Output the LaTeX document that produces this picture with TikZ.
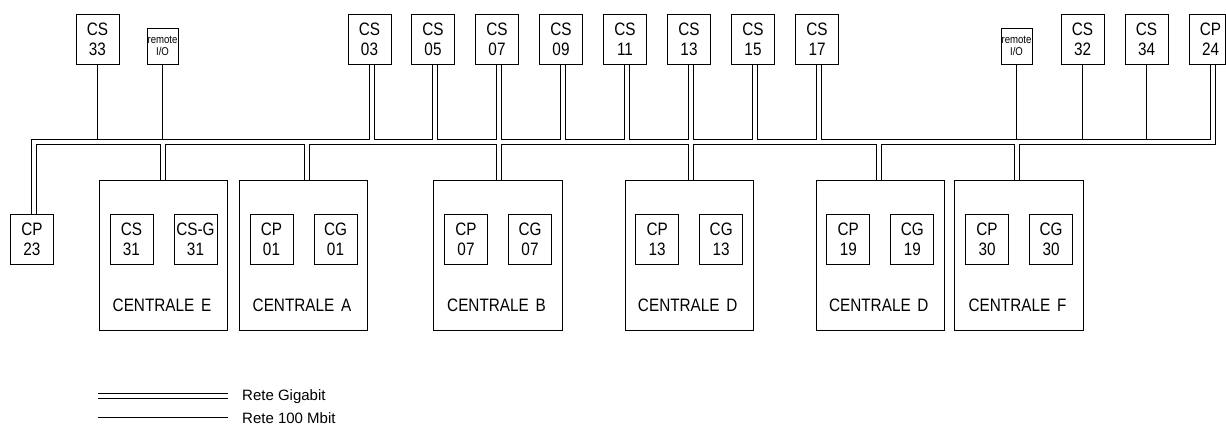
\documentclass[tikz,border=0pt]{standalone}
\usepackage{fontspec}
\setmainfont{Liberation Sans}[FakeStretch=0.85]
\newfontfamily\legfont{Liberation Sans}
\pgfdeclarelayer{bg}
\pgfsetlayers{bg,main}
\begin{document}
\begin{tikzpicture}[x=1pt,y=-1pt,
  box/.style={draw=black, line width=0.9pt, minimum width=43pt, minimum height=50pt, inner sep=0pt, align=center, font=\fontsize{18}{20}\selectfont},
  rio/.style={draw=black, line width=0.9pt, minimum width=31pt, minimum height=36pt, inner sep=0pt, align=center, font=\fontsize{11.3}{12.5}\selectfont},
  central/.style={draw=black, line width=0.9pt, minimum width=128.5pt, minimum height=150pt, inner sep=0pt},
  clabel/.style={font=\fontsize{18}{20}\selectfont, inner sep=0pt},
  gigout/.style={line width=5.6pt, draw=black, line join=miter},
  gigin/.style={line width=3.6pt, draw=white, line join=miter},
  legout/.style={line width=6pt, draw=black},
  legin/.style={line width=4pt, draw=white},
  fast/.style={line width=0.9pt, draw=black},
  legtext/.style={font=\legfont\fontsize{15}{16}\selectfont, anchor=west, inner sep=0pt}]
\useasboundingbox (0,0) rectangle (1226,433);

% top row
\node[box] (cs33) at (97.5,39) {CS\\33};
\node[rio] (rio1) at (162.5,46) {remote\\I/O};
\node[box] (cs03) at (369.5,39) {CS\\03};
\node[box] (cs05) at (433,39) {CS\\05};
\node[box] (cs07) at (497,39) {CS\\07};
\node[box] (cs09) at (561,39) {CS\\09};
\node[box] (cs11) at (625,39) {CS\\11};
\node[box] (cs13) at (689,39) {CS\\13};
\node[box] (cs15) at (753,39) {CS\\15};
\node[box] (cs17) at (817,39) {CS\\17};
\node[rio] (rio2) at (1016.5,46) {remote\\I/O};
\node[box] (cs32) at (1082.5,39) {CS\\32};
\node[box] (cs34) at (1146.5,39) {CS\\34};
\node[box, minimum width=36pt] (cp24) at (1207.5,39) {\hspace*{6pt}CP\\\hspace*{6pt}24};

% bottom left
\node[box] (cp23) at (32,239) {CP\\23};

% centrali
\node[central] (ce) at (163.5,255) {};
\node[box] (ce1) at (131.5,239) {CS\\31};
\node[box] (ce2) at (195.5,239) {CS-G\\31};
\node[clabel] (ceL) at (162,305) {CENTRALE\hspace{2.5pt} E};

\node[central] (ca) at (303.5,255) {};
\node[box] (ca1) at (271.5,239) {CP\\01};
\node[box] (ca2) at (335.5,239) {CG\\01};
\node[clabel] (caL) at (302,305) {CENTRALE\hspace{2.5pt} A};

\node[central] (cb) at (498,255) {};
\node[box] (cb1) at (466,239) {CP\\07};
\node[box] (cb2) at (530,239) {CG\\07};
\node[clabel] (cbL) at (496.5,305) {CENTRALE\hspace{2.5pt} B};

\node[central] (cd) at (689.2,255) {};
\node[box] (cd1) at (657.2,239) {CP\\13};
\node[box] (cd2) at (721.2,239) {CG\\13};
\node[clabel] (cdL) at (687.7,305) {CENTRALE\hspace{2.5pt} D};

\node[central] (cdd) at (880.3,255) {};
\node[box] (cdd1) at (848.3,239) {CP\\19};
\node[box] (cdd2) at (912.3,239) {CG\\19};
\node[clabel] (cddL) at (878.8,305) {CENTRALE\hspace{2.5pt} D};

\node[central] (cf) at (1019,255) {};
\node[box] (cf1) at (987,239) {CP\\30};
\node[box] (cf2) at (1051,239) {CG\\30};
\node[clabel] (cfL) at (1017.5,305) {CENTRALE\hspace{2.5pt} F};

% bus reference coordinates
\coordinate (busC) at (0,141.8);
\coordinate (busT) at (0,139);

\coordinate (tcp23) at ([xshift=2pt]cp23.north);
\coordinate (tcp24) at ([xshift=5.7pt]cp24.south);
\foreach \n in {cs03,cs05,cs07,cs09,cs11,cs13,cs15,cs17}
  \coordinate (t\n) at ([xshift=2.2pt]\n.south);
\coordinate (bce) at ([xshift=-0.3pt]ce.north);
\coordinate (bca) at ([xshift=3.7pt]ca.north);
\coordinate (bcb) at ([xshift=1.2pt]cb.north);
\coordinate (bcd) at ([xshift=2pt]cd.north);
\coordinate (bcdd) at ([xshift=-1.6pt]cdd.north);
\coordinate (bcf) at ([xshift=-2pt]cf.north);

\def\gignet{
  (tcp23) |- (tcp24 |- busC) -- (tcp24)
  (tcs03) -- (tcs03 |- busC)
  (tcs05) -- (tcs05 |- busC)
  (tcs07) -- (tcs07 |- busC)
  (tcs09) -- (tcs09 |- busC)
  (tcs11) -- (tcs11 |- busC)
  (tcs13) -- (tcs13 |- busC)
  (tcs15) -- (tcs15 |- busC)
  (tcs17) -- (tcs17 |- busC)
  (bce) -- (bce |- busC)
  (bca) -- (bca |- busC)
  (bcb) -- (bcb |- busC)
  (bcd) -- (bcd |- busC)
  (bcdd) -- (bcdd |- busC)
  (bcf) -- (bcf |- busC)
}

\begin{pgfonlayer}{bg}
  \draw[gigout] \gignet;
  \draw[gigin] \gignet;
  \draw[fast] (cs33.south) -- (cs33.south |- busT);
  \draw[fast] (rio1.south) -- (rio1.south |- busT);
  \draw[fast] (rio2.south) -- (rio2.south |- busT);
  \draw[fast] (cs32.south) -- (cs32.south |- busT);
  \draw[fast] (cs34.south) -- (cs34.south |- busT);
\end{pgfonlayer}

% legend
\coordinate (lg1) at (98.3,396);
\coordinate (lg2) at (227.7,396);
\draw[legout] (lg1) -- (lg2);
\draw[legin] (lg1) -- (lg2);
\node[legtext] (lgt1) at (242,397) {Rete Gigabit};
\coordinate (ls1) at (98.3,417);
\coordinate (ls2) at (227.7,417);
\draw[fast] (ls1) -- (ls2);
\node[legtext] (lgt2) at (242,418.5) {Rete 100 Mbit};
\end{tikzpicture}
\end{document}
